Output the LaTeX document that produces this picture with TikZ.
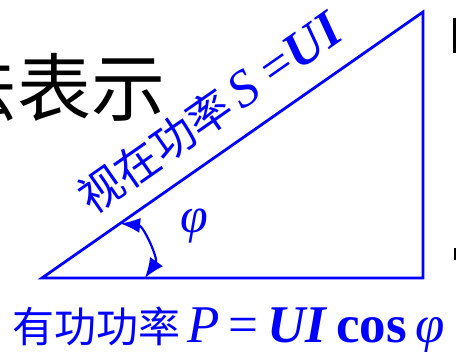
\documentclass[tikz,border=0pt]{standalone}
\usepackage{fontspec}
\setmainfont{Liberation Serif}
\newfontfamily\cjk{Noto Sans CJK SC}
\usetikzlibrary{arrows.meta,positioning,calc}
\definecolor{triblue}{HTML}{0000FF}
\tikzset{
  side/.style={draw=triblue, line width=2.8pt, line join=miter},
  anglearr/.style={{Latex[length=20pt,width=15pt]}-{Latex[length=20pt,width=16pt]}, draw=triblue, line width=2.2pt},
  lbl/.style={text=triblue, inner sep=0pt},
  head/.style={font=\fontsize{74}{74}\selectfont\cjk, text=black, inner sep=0pt},
}
\begin{document}
\begin{tikzpicture}[x=1pt,y=1pt]
  \useasboundingbox (0,0) rectangle (456,352);
  \clip (0,0) rectangle (456,352);
  % cut-off heading and edge marks
  \node[head, anchor=east] (title) at (166,265) {法表示};
  \fill (453,299) rectangle (456,334);
  \fill (454,92) rectangle (456,104);
  % power triangle
  \coordinate (O) at (42,74);
  \coordinate (A) at (423,74);
  \coordinate (B) at (423,340);
  \draw[side] (O) -- (A) -- (B) -- cycle;
  \path (O) -- (B) node[lbl, pos=0.5, above=19pt, sloped, font=\fontsize{44}{44}\selectfont] (apparent) {{\cjk 视在功率}\,{\fontsize{52}{52}\selectfont\textit{S} =\textbf{\textit{UI}}}};
  \node[lbl, anchor=base west, font=\fontsize{42}{42}\selectfont] (active) at (12,9) {{\cjk 有功功率}\,{\fontsize{53}{53}\selectfont\textit{P}\,=\,\textbf{\textit{UI}}\,\textbf{cos}\,\textit{φ}}};
  % angle
  \coordinate (h) at ($(O)!0.205!(B)$);
  \coordinate (b) at ($(O)!0.27!(A)$);
  \draw[anglearr] (h) to[bend left=60] (b);
  \node[lbl, font=\fontsize{50}{50}\selectfont] (phi) at (194,126) {\textit{φ}};
\end{tikzpicture}
\end{document}
